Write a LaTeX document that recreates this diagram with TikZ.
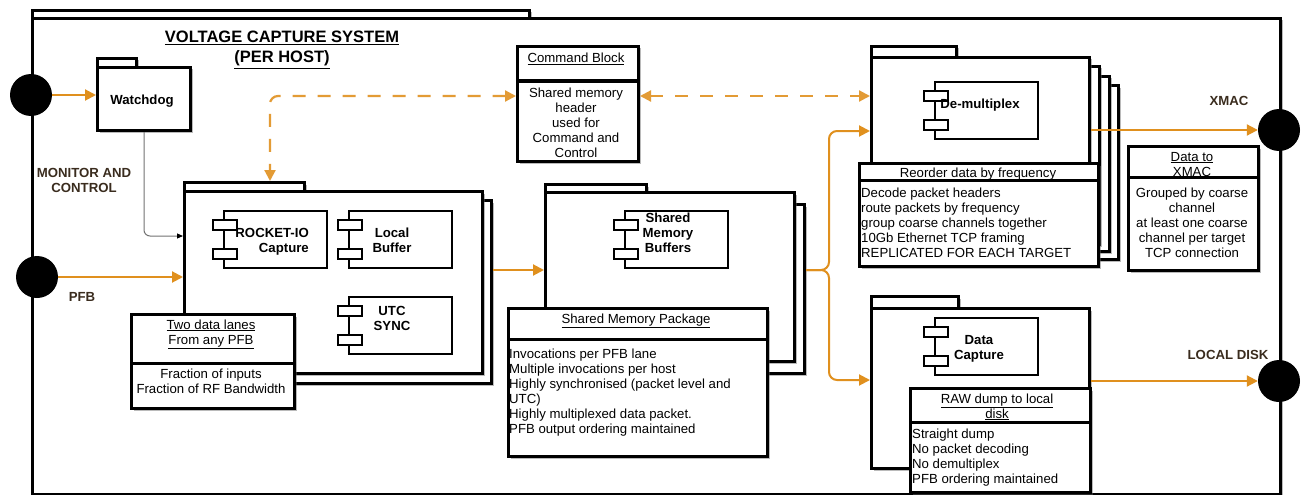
\documentclass[tikz,border=0pt]{standalone}
\usepackage{fontspec}
\setmainfont{Liberation Sans}
\usetikzlibrary{arrows.meta,shadows,calc}
\definecolor{orng}{RGB}{224,144,30}
\definecolor{lbl}{RGB}{58,44,30}
\newcommand\mkbox[6]{\node[#2, minimum width={#5-#3}, minimum height={#6-#4}] (#1) at (#3,#4) {};}
\newcommand\mkcomp[3]{%
  \node[comp] (#1) at (#2,#3) {};
  \node[compsm] (#1a) at ($(#1.north west)+(-11,9)$) {};
  \node[compsm] (#1b) at ($(#1.north west)+(-11,38)$) {};}
\begin{document}
\begin{tikzpicture}[x=1pt,y=-1pt,
  every node/.style={font=\fontsize{13.2}{15}\selectfont},
  bxbase/.style={draw, fill=white, inner sep=0pt, anchor=north west},
  pkg/.style={bxbase, line width=3pt, drop shadow={shadow xshift=2pt, shadow yshift=-2pt, fill=black!60, opacity=0.45}},
  note/.style={pkg},
  comp/.style={bxbase, line width=1.6pt, minimum width=103, minimum height=57},
  compsm/.style={bxbase, line width=1.6pt, minimum width=24, minimum height=10},
  txt/.style={inner sep=0pt, anchor=base, align=center},
  ltxt/.style={inner sep=0pt, anchor=base west, align=left},
  blbl/.style={txt, font=\fontsize{13.2}{15}\selectfont\bfseries},
  port/.style={circle, fill=black, minimum size=42, inner sep=0pt},
  divl/.style={line width=3pt},
  oline/.style={draw=orng, line width=2pt},
  oarr/.style={oline, -{Triangle[length=11pt,width=11pt]}},
  dsh/.style={draw=orng!90, line width=2.2pt, dash pattern=on 13pt off 12pt,
     {Triangle[length=11pt,width=11pt]}-{Triangle[length=11pt,width=11pt]}, rounded corners=8pt}
]
\useasboundingbox[fill=white] (0,0) rectangle (1301,495);

% outer frame
\mkbox{frametab}{pkg}{31}{9}{528}{17}
\mkbox{frame}{pkg}{31}{17}{1279}{493}

% (multi-line nodes: base anchor = baseline of last line)
\node[blbl, font=\fontsize{16.5}{20}\selectfont\bfseries] (title) at (282,63)
  {\underline{VOLTAGE CAPTURE SYSTEM}\\\underline{(PER HOST)}};

% watchdog
\mkbox{wdtab}{pkg}{96}{57}{135}{66}
\mkbox{wd}{pkg}{96}{66}{189}{129}
\node[blbl] (wdt) at (142,104) {Watchdog};

% rocket-io package
\mkbox{rockettab}{pkg}{183}{181}{303}{190}
\mkbox{rocketb}{pkg}{192}{199}{490}{382}
\mkbox{rocket}{pkg}{183}{190}{481}{372}
\mkcomp{rio}{223}{210}
\mkcomp{lbuf}{348}{210}
\mkcomp{utc}{348}{296}
\node[blbl, align=right, anchor=base east] (riot) at (309,252) {ROCKET-IO\\Capture};
\node[blbl] (lbuft) at (392,252) {Local\\Buffer};
\node[blbl] (utct) at (392,330) {UTC\\SYNC};

% two data lanes note
\mkbox{lanes}{note}{130}{313}{293}{407}
\draw[divl] (130,363) -- (293,363);
\node[txt] (lanest) at (211,344) {\underline{Two data lanes}\\\underline{From any PFB}};
\node[txt] (lanesb) at (211,393) {Fraction of inputs\\Fraction of RF Bandwidth};

% command block
\mkbox{cmd}{note}{516}{45}{637}{160}
\draw[divl] (516,81) -- (637,81);
\node[txt] (cmdt) at (576,63) {\underline{Command Block}};
\node[txt] (cmdb) at (576,157) {Shared memory\\header\\used for\\Command and\\Control};

% shared memory package
\mkbox{shmtab}{pkg}{544}{183}{645}{191}
\mkbox{shmb}{pkg}{553}{203}{803}{372}
\mkbox{shm}{pkg}{544}{191}{793}{360}
\mkcomp{smb}{624}{210}
\node[blbl] (smbt) at (668,252) {Shared\\Memory\\Buffers};
\mkbox{shmp}{note}{507}{307}{766}{455}
\draw[divl] (507,339) -- (766,339);
\node[txt] (shmpt) at (636,323) {\underline{Shared Memory Package}};
\node[ltxt] (shmpb) at (509,433) {Invocations per PFB lane\\Multiple invocations per host\\Highly synchronised (packet level and\\UTC)\\Highly multiplexed data packet.\\PFB output ordering maintained};

% de-multiplex package (stacked)
\mkbox{demuxtab}{pkg}{870}{45}{955}{56}
\mkbox{demux3}{pkg}{899}{84}{1117}{258}
\mkbox{demux2}{pkg}{890}{75}{1108}{250}
\mkbox{demux1}{pkg}{880}{65}{1098}{243}
\mkbox{demux}{pkg}{870}{56}{1088}{235}
\mkcomp{dmc}{934}{81}
\node[blbl] (dmct) at (980,108) {De-multiplex};
\mkbox{reord}{note}{858}{162}{1097}{265}
\draw[divl] (858,180) -- (1097,180);
\node[txt] (reordt) at (978,177) {\underline{Reorder data by frequency}};
\node[ltxt] (reordb) at (861,257) {Decode packet headers\\route packets by frequency\\group coarse channels together\\10Gb Ethernet TCP framing\\REPLICATED FOR EACH TARGET};

% data to xmac note
\mkbox{dx}{note}{1127}{145}{1257}{269}
\draw[divl] (1127,177) -- (1257,177);
\node[txt] (dxt) at (1192,176) {\underline{Data to}\\\underline{XMAC}};
\node[txt] (dxb) at (1192,257) {Grouped by coarse\\channel\\at least one coarse\\channel per target\\TCP connection};

% data capture package
\mkbox{dcaptab}{pkg}{870}{295}{957}{307}
\mkbox{dcap}{pkg}{870}{307}{1088}{467}
\mkcomp{dcc}{934}{317}
\node[blbl] (dcct) at (979,359) {Data\\Capture};
\mkbox{raw}{note}{909}{387}{1089}{491}
\draw[divl] (909,422) -- (1089,422);
\node[txt] (rawt) at (997,418) {\underline{RAW dump to local}\\\underline{disk}};
\node[ltxt] (rawb) at (912,483) {Straight dump\\No packet decoding\\No demultiplex\\PFB ordering maintained};

% labels
\node[blbl, text=lbl] (mclbl) at (84,192) {MONITOR AND\\CONTROL};
\node[blbl, text=lbl] (pfblbl) at (82,301) {PFB};
\node[blbl, text=lbl] (xmaclbl) at (1229,106) {XMAC};
\node[blbl, text=lbl] (ldlbl) at (1228,359) {LOCAL DISK};

% helper coordinates
\coordinate (y270) at (0,270);
\coordinate (y131) at (0,131);
\coordinate (y380) at (0,380);
\coordinate (y96) at (0,96);
\coordinate (rockin) at (183,236);
\coordinate (rtabtop) at (270,181);
\coordinate (split) at (829,270);

% connectors
\draw[oarr] (31,95) ++(21,0) coordinate (pmcE) -- (pmcE -| wd.west);
\draw[oarr] (37,277) ++(21,0) coordinate (ppfbE) -- (ppfbE -| rocket.west);
\draw[draw=black!55, line width=1pt, rounded corners=6pt, -{Triangle[length=6pt,width=5pt,color=black]}] (wd.south) |- (rockin);
\draw[dsh] (cmd.west |- y96) -| (rtabtop);
\draw[dsh] (cmd.east |- y96) -- (demux.west |- y96);
\draw[oarr] (rocketb.east |- y270) -- (shm.west |- y270);
\draw[oarr, rounded corners=8pt] (shmb.east |- y270) -- (split) |- (demux.west |- y131);
\draw[oarr, rounded corners=8pt] (shmb.east |- y270) -- (split) |- (dcap.west |- y380);

% ports
\node[port] (pmc) at (31,95) {};
\node[port] (ppfb) at (37,277) {};
\node[port] (pxmac) at (1279,130) {};
\node[port] (plocal) at (1279,381) {};
\draw[oarr] (demux.east |- pxmac) -- (pxmac);
\draw[oarr] (dcap.east |- plocal) -- (plocal);
\end{tikzpicture}
\end{document}
